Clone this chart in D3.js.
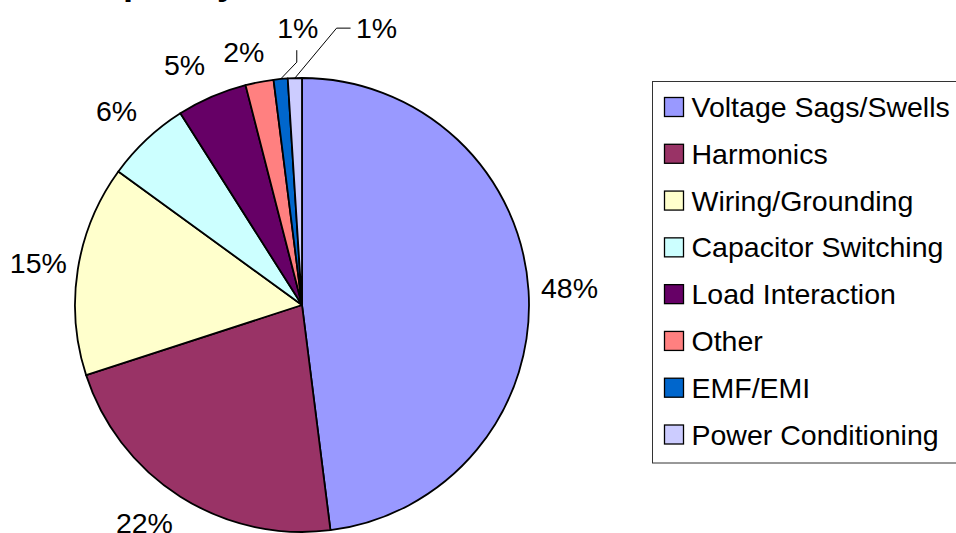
<!DOCTYPE html>
<html lang="en">
<head>
    <meta charset="UTF-8">
    <title>Power Quality Pie</title>
    <script src="https://d3js.org/d3.v7.min.js"></script>
    <style>
        body {
            margin: 0;
            background: #fff;
        }
        svg {
            display: block;
            font-family: "Liberation Sans", Arial, sans-serif;
        }
        .label, .legend text {
            font-size: 28.5px;
            fill: #000;
        }
        .title {
            font-size: 36px;
            font-weight: bold;
        }
    </style>
</head>
<body>
    <svg width="956" height="533"></svg>
    <script>
        // data
        const categories = ["Voltage Sags/Swells", "Harmonics", "Wiring/Grounding", "Capacitor Switching",
            "Load Interaction", "Other", "EMF/EMI", "Power Conditioning"];
        const shares = [48, 22, 15, 6, 5, 2, 1, 1];
        const colors = ["#9999FF", "#993366", "#FFFFCC", "#CCFFFF", "#660066", "#FF8080", "#0066CC", "#CCCCFF"];
        const titleText = "Frequency of Occurrence";

        const width = 956, height = 533;
        const cx = 302, cy = 305, radius = 227;
        const labelRadius = 268;

        // manual nudges for the data labels, like moved labels in the original
        const labelNudge = [[0, 0], [-14, -8], [1, 0], [-2, 1], [-11, 6], [-8, 10], [21, -10], [83, -9]];

        const svg = d3.select("svg");

        // title sits mostly above the picture, only descenders are seen
        svg.append("text")
            .attr("class", "title")
            .attr("x", 55)
            .attr("y", -6)
            .text(titleText);

        const data = categories.map((c, i) => ({ name: c, value: shares[i], color: colors[i] }));

        const pie = d3.pie().sort(null).value(d => d.value);
        const arcs = pie(data);

        const arc = d3.arc().innerRadius(0).outerRadius(radius);
        const edgeArc = d3.arc().innerRadius(radius).outerRadius(radius);
        const labelArc = d3.arc().innerRadius(labelRadius).outerRadius(labelRadius);

        const g = svg.append("g").attr("transform", `translate(${cx},${cy})`);

        g.selectAll("path.slice")
            .data(arcs)
            .enter().append("path")
            .attr("class", "slice")
            .attr("d", arc)
            .attr("fill", d => d.data.color)
            .attr("stroke", "#000")
            .attr("stroke-width", 1.8)
            .attr("stroke-linejoin", "round");

        // label positions
        const labelPos = arcs.map((d, i) => {
            const c = labelArc.centroid(d);
            return [c[0] + labelNudge[i][0], c[1] + labelNudge[i][1]];
        });

        g.selectAll("text.label")
            .data(arcs)
            .enter().append("text")
            .attr("class", "label")
            .attr("text-anchor", "middle")
            .attr("x", (d, i) => labelPos[i][0])
            .attr("y", (d, i) => labelPos[i][1] + 10)
            .text(d => d3.format(".0f")(d.data.value) + "%");

        // leader lines for the two small slices
        const line = d3.line();
        const emf = 6, pc = 7;
        const emfEdge = edgeArc.centroid(arcs[emf]);
        const pcEdge = edgeArc.centroid(arcs[pc]);
        const leaders = [
            [emfEdge, [labelPos[emf][0] - 1, labelPos[emf][1] + 34], [labelPos[emf][0] - 1, labelPos[emf][1] + 22]],
            [pcEdge, [labelPos[pc][0] - 40, labelPos[pc][1]], [labelPos[pc][0] - 26, labelPos[pc][1]]]
        ];
        g.selectAll("path.leader")
            .data(leaders)
            .enter().append("path")
            .attr("class", "leader")
            .attr("d", line)
            .attr("fill", "none")
            .attr("stroke", "#000")
            .attr("stroke-width", 1);

        // legend
        const legend = svg.append("g").attr("class", "legend");
        legend.append("rect")
            .attr("x", 652.5)
            .attr("y", 81.5)
            .attr("width", 320)
            .attr("height", 381.5)
            .attr("fill", "#fff")
            .attr("stroke", "#333")
            .attr("stroke-width", 1);

        const rowY = d3.scalePoint().domain(categories).range([107, 434.5]);

        const items = legend.selectAll("g.item")
            .data(data)
            .enter().append("g")
            .attr("class", "item")
            .attr("transform", d => `translate(664.5,${rowY(d.name)})`);

        items.append("rect")
            .attr("x", 0)
            .attr("y", -9.5)
            .attr("width", 19)
            .attr("height", 19)
            .attr("fill", d => d.color)
            .attr("stroke", "#000")
            .attr("stroke-width", 1.3);

        items.append("text")
            .attr("x", 27)
            .attr("y", 10)
            .text(d => d.name);
    </script>
</body>
</html>
